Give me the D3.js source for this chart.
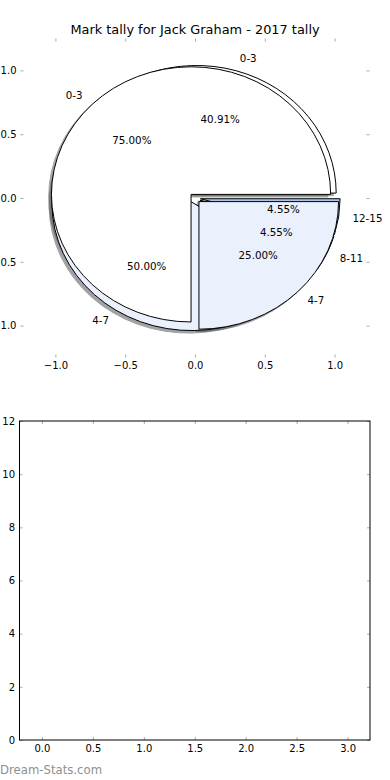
<!DOCTYPE html>
<html>
<head>
<meta charset="utf-8">
<script src="https://cdn.jsdelivr.net/npm/d3@7"></script>
<style>
  body { margin: 0; background: #fff; }
  text { font-family: "DejaVu Sans", sans-serif; }
</style>
</head>
<body>
<svg id="chart" width="390" height="780"></svg>
<script>
const chartTitle = 'Mark tally for Jack Graham - 2017 tally';

// first pie (drawn underneath)
const tallyLabels = ['0-3', '4-7', '8-11', '12-15'];
const tallyCounts = [9, 11, 1, 1];

// second pie (drawn on top)
const shortLabels = ['0-3', '4-7'];
const shortCounts = [3, 1];

const sliceColors = {'0-3': '#ffffff', '4-7': '#eaf0fc', '8-11': '#d3e1f6', '12-15': '#a9c5ec'};

const pieTicks = [-1.0, -0.5, 0.0, 0.5, 1.0];
const emptyXTicks = [0, 0.5, 1, 1.5, 2, 2.5, 3];
const emptyYTicks = [0, 2, 4, 6, 8, 10, 12];

const explode = 0.04;
const shadowOffset = 0.02;
const tickColor = '#aaa';

const svg = d3.select('#chart');

// ---- top: the pies ----
const x = d3.scaleLinear().domain([-1.25, 1.25]).range([20.5, 369.5]);
const y = d3.scaleLinear().domain([-1.25, 1.25]).range([357.5, 38.5]);
const sx = x(1) - x(0);
const sy = y(0) - y(1);

svg.append('text')
    .attr('x', 195)
    .attr('y', 34)
    .attr('text-anchor', 'middle')
    .style('font-size', '12.9px')
    .text(chartTitle);

// ticks without frame
function styleTicks(g) {
    g.select('.domain').remove();
    g.selectAll('line').attr('stroke', tickColor);
    g.selectAll('text').style('font-family', '"DejaVu Sans", sans-serif').style('font-size', '10px').attr('fill', '#000');
}

svg.append('g').attr('transform', `translate(0, ${y(-1.25)})`)
    .call(d3.axisBottom(x).tickValues(pieTicks).tickSize(-3).tickPadding(4.4).tickFormat(d3.format('.1f')))
    .call(styleTicks);
svg.append('g').attr('transform', `translate(0, ${y(1.25)})`)
    .call(d3.axisTop(x).tickValues(pieTicks).tickSize(-3).tickFormat(''))
    .call(styleTicks);
svg.append('g').attr('transform', `translate(${x(-1.25)}, 0)`)
    .call(d3.axisLeft(y).tickValues(pieTicks).tickSize(-3).tickPadding(4).tickFormat(d3.format('.1f')))
    .call(styleTicks);
svg.append('g').attr('transform', `translate(${x(1.25)}, 0)`)
    .call(d3.axisRight(y).tickValues(pieTicks).tickSize(-3).tickFormat(''))
    .call(styleTicks);

const pie = d3.pie().sort(null).startAngle(Math.PI / 2).endAngle(Math.PI / 2 + 2 * Math.PI);
const arc = d3.arc().innerRadius(0).outerRadius(1);

function layout(labels, counts) {
    const total = d3.sum(counts);
    return pie(counts).map((d, i) => {
        const mid = (d.startAngle + d.endAngle) / 2 - Math.PI / 2;
        return {
            arc: d,
            label: labels[i],
            pct: d.value / total * 100,
            mid: mid,
            ox: explode * Math.cos(mid),
            oy: explode * Math.sin(mid)
        };
    });
}

const pies = [layout(tallyLabels, tallyCounts), layout(shortLabels, shortCounts)];

function shadowFill(c) {
    const col = d3.color(c);
    return d3.rgb(col.r * 0.3, col.g * 0.3, col.b * 0.3).toString();
}

// shadows first, below every wedge
pies.forEach(slices => {
    svg.append('g').selectAll('path')
        .data(slices)
        .enter()
        .append('path')
        .attr('d', d => arc(d.arc))
        .attr('transform', d => `translate(${x(d.ox - shadowOffset)}, ${y(d.oy - shadowOffset)}) scale(${sx}, ${-sy})`)
        .attr('fill', d => shadowFill(sliceColors[d.label]))
        .attr('stroke', d => shadowFill(sliceColors[d.label]))
        .attr('stroke-width', 1)
        .attr('vector-effect', 'non-scaling-stroke')
        .style('opacity', 0.5);
});

pies.forEach(slices => {
    svg.append('g').selectAll('path')
        .data(slices)
        .enter()
        .append('path')
        .attr('d', d => arc(d.arc))
        .attr('transform', d => `translate(${x(d.ox)}, ${y(d.oy)}) scale(${sx}, ${-sy})`)
        .attr('fill', d => sliceColors[d.label])
        .attr('stroke', '#000')
        .attr('stroke-width', 1)
        .attr('vector-effect', 'non-scaling-stroke');
});

// labels and percentages
pies.forEach(slices => {
    const g = svg.append('g').style('font-size', '10.3px');
    g.selectAll('.lab')
        .data(slices)
        .enter()
        .append('text')
        .attr('class', 'lab')
        .attr('x', d => x(d.ox + 1.1 * Math.cos(d.mid)))
        .attr('y', d => y(d.oy + 1.1 * Math.sin(d.mid)))
        .attr('dy', '0.35em')
        .attr('text-anchor', d => Math.cos(d.mid) > 0 ? 'start' : 'end')
        .text(d => d.label);
    g.selectAll('.pct')
        .data(slices)
        .enter()
        .append('text')
        .attr('class', 'pct')
        .attr('x', d => x(d.ox + 0.6 * Math.cos(d.mid)))
        .attr('y', d => y(d.oy + 0.6 * Math.sin(d.mid)))
        .attr('dy', '0.35em')
        .attr('text-anchor', 'middle')
        .text(d => d3.format('.2f')(d.pct) + '%');
});

// ---- bottom: empty axes ----
const bx = d3.scaleLinear().domain([-0.22, 3.22]).range([19.5, 370]);
const by = d3.scaleLinear().domain([0, 12]).range([740, 421]);

svg.append('g').attr('transform', `translate(0, ${by(0)})`)
    .call(d3.axisBottom(bx).tickValues(emptyXTicks).tickSize(-3).tickPadding(4.8).tickFormat(d3.format('.1f')))
    .call(styleTicks);
svg.append('g').attr('transform', `translate(0, ${by(12)})`)
    .call(d3.axisTop(bx).tickValues(emptyXTicks).tickSize(-3).tickFormat(''))
    .call(styleTicks);
svg.append('g').attr('transform', `translate(${bx(-0.22)}, 0)`)
    .call(d3.axisLeft(by).tickValues(emptyYTicks).tickSize(-3).tickPadding(4.5).tickFormat(d3.format('d')))
    .call(styleTicks);
svg.append('g').attr('transform', `translate(${bx(3.22)}, 0)`)
    .call(d3.axisRight(by).tickValues(emptyYTicks).tickSize(-3).tickFormat(''))
    .call(styleTicks);

svg.append('rect')
    .attr('x', bx(-0.22))
    .attr('y', by(12))
    .attr('width', bx(3.22) - bx(-0.22))
    .attr('height', by(0) - by(12))
    .attr('fill', 'none')
    .attr('stroke', '#000')
    .attr('stroke-width', 1);

svg.append('text')
    .attr('x', 0)
    .attr('y', 774)
    .attr('fill', '#8f8f8f')
    .style('font-size', '11.7px')
    .text('Dream-Stats.com');
</script>
</body>
</html>
